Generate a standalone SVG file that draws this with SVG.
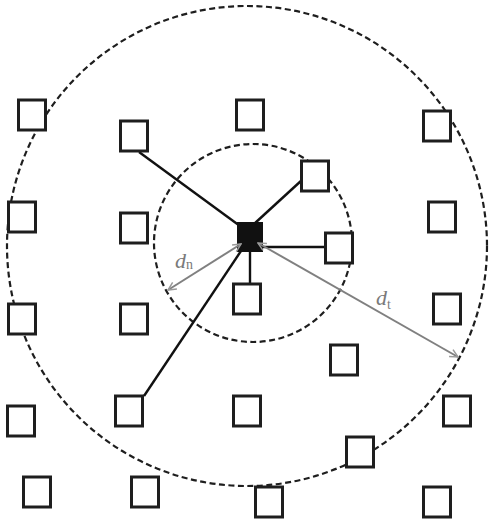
<svg xmlns="http://www.w3.org/2000/svg" width="489" height="524" viewBox="0 0 489 524">
<style>
.n rect{fill:#fff;stroke:#1e1e1e;stroke-width:3}
.ring{fill:none;stroke:#1e1e1e;stroke-width:2.2;stroke-dasharray:6 3.5}
.link{stroke:#111;stroke-width:2.4;fill:none}
.dist{stroke:#808080;stroke-width:2;fill:none}
.lbl{font-family:"Liberation Serif",serif;fill:#7a7a7a}
</style>
<defs>
<marker id="ah" viewBox="0 0 10 10" refX="9" refY="5" markerWidth="10" markerHeight="10" orient="auto-start-reverse" markerUnits="userSpaceOnUse">
<path d="M1,1 L9,5 L1,9" fill="none" stroke="#9a9a9a" stroke-width="1.5"/>
</marker>
</defs>
<rect width="489" height="524" fill="#fff"/>
<g id="rings">
<circle class="ring" cx="247" cy="246" r="240"/>
<circle class="ring" cx="253" cy="243" r="99"/>
</g>
<g id="center"><rect x="237" y="222" width="26" height="30" fill="#111"/></g>
<g id="connectors">
<line class="link" x1="139" y1="152" x2="240" y2="226"/>
<line class="link" x1="302" y1="180" x2="254" y2="224"/>
<line class="link" x1="326" y1="247" x2="262" y2="247"/>
<line class="link" x1="250" y1="252" x2="250" y2="284"/>
<line class="link" x1="144" y1="396" x2="243" y2="248"/>
<line class="dist" x1="241" y1="244" x2="168" y2="290" marker-start="url(#ah)" marker-end="url(#ah)"/>
<line class="dist" x1="258" y1="243" x2="458" y2="357" marker-start="url(#ah)" marker-end="url(#ah)"/>
</g>
<g class="n">
<g id="n1"><rect x="18.5" y="100" width="27" height="30"/></g>
<g id="n2"><rect x="120.5" y="121" width="27" height="30"/></g>
<g id="n3"><rect x="236.5" y="100" width="27" height="30"/></g>
<g id="n4"><rect x="423.5" y="111" width="27" height="30"/></g>
<g id="n5"><rect x="301.5" y="161" width="27" height="30"/></g>
<g id="n6"><rect x="8.5" y="202" width="27" height="30"/></g>
<g id="n7"><rect x="120.5" y="213" width="27" height="30"/></g>
<g id="n8"><rect x="428.5" y="202" width="27" height="30"/></g>
<g id="n9"><rect x="325.5" y="233" width="27" height="30"/></g>
<g id="n10"><rect x="233.5" y="284" width="27" height="30"/></g>
<g id="n11"><rect x="8.5" y="304" width="27" height="30"/></g>
<g id="n12"><rect x="120.5" y="304" width="27" height="30"/></g>
<g id="n13"><rect x="433.5" y="294" width="27" height="30"/></g>
<g id="n14"><rect x="330.5" y="345" width="27" height="30"/></g>
<g id="n15"><rect x="7.5" y="406" width="27" height="30"/></g>
<g id="n16"><rect x="115.5" y="396" width="27" height="30"/></g>
<g id="n17"><rect x="233.5" y="396" width="27" height="30"/></g>
<g id="n18"><rect x="443.5" y="396" width="27" height="30"/></g>
<g id="n19"><rect x="346.5" y="437" width="27" height="30"/></g>
<g id="n20"><rect x="23.5" y="477" width="27" height="30"/></g>
<g id="n21"><rect x="131.5" y="477" width="27" height="30"/></g>
<g id="n22"><rect x="255.5" y="487" width="27" height="30"/></g>
<g id="n23"><rect x="423.5" y="487" width="27" height="30"/></g>
</g>
<g id="labels">
<text class="lbl" x="175" y="268" font-size="22" font-style="italic">d<tspan font-style="normal" font-size="14" dy="1">n</tspan></text>
<text class="lbl" x="376" y="305" font-size="22" font-style="italic">d<tspan font-style="normal" font-size="14" dy="4">t</tspan></text>
</g>
</svg>
